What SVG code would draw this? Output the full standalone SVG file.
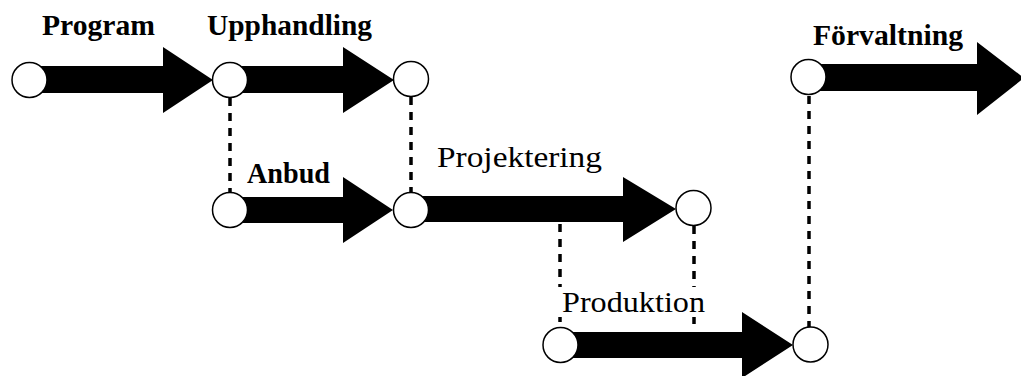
<svg xmlns="http://www.w3.org/2000/svg" width="1021" height="376" viewBox="0 0 1021 376">
<style>
.arrow{fill:#000}
.dash{stroke:#000;stroke-width:3.5;stroke-dasharray:8 7;fill:none}
.node{fill:#fff;stroke:#000;stroke-width:1.5}
.lb{font-family:"Liberation Serif","Times New Roman",serif;font-size:29px;fill:#000}
.b{font-weight:bold}
</style>
<rect width="1021" height="376" fill="#fff"/>
<g id="connectors">
<line class="dash" x1="230" y1="98" x2="230" y2="193"/>
<line class="dash" x1="411" y1="97" x2="411" y2="192"/>
<line class="dash" x1="560" y1="224" x2="560" y2="328"/>
<line class="dash" x1="694" y1="226" x2="694" y2="328"/>
<line class="dash" x1="809" y1="96" x2="809" y2="328"/>
<polygon id="arrow-program" class="arrow" points="29,66 163,66 163,47 213,80 163,113 163,93 29,93"/>
<polygon id="arrow-upphandling" class="arrow" points="230,66 343,66 343,47 394,80 343,113 343,93 230,93"/>
<polygon id="arrow-anbud" class="arrow" points="230,197 343,197 343,177 393,210 343,243 343,223 230,223"/>
<polygon id="arrow-projektering" class="arrow" points="411,196 623,196 623,177 676,209 623,242 623,222 411,222"/>
<polygon id="arrow-produktion" class="arrow" points="560,332 742,332 742,312 793,345 742,378 742,358 560,358"/>
<polygon id="arrow-forvaltning" class="arrow" points="808,64 977,64 977,42 1024,78 977,115 977,91 808,91"/>
</g>
<g id="n1"><circle class="node" cx="29.5" cy="80" r="17.5"/></g>
<g id="n2"><circle class="node" cx="230" cy="80" r="17.5"/></g>
<g id="n3"><circle class="node" cx="411" cy="79" r="17.5"/></g>
<g id="n4"><circle class="node" cx="230" cy="210" r="17.5"/></g>
<g id="n5"><circle class="node" cx="411" cy="210" r="17.5"/></g>
<g id="n6"><circle class="node" cx="693.5" cy="208" r="17.5"/></g>
<g id="n7"><circle class="node" cx="560.5" cy="345" r="17.5"/></g>
<g id="n8"><circle class="node" cx="810.5" cy="344.5" r="17.5"/></g>
<g id="n9"><circle class="node" cx="808.5" cy="77" r="17.5"/></g>
<g id="labels">
<text class="lb b" x="42" y="35" textLength="113" lengthAdjust="spacingAndGlyphs">Program</text>
<text class="lb b" x="207" y="35" textLength="165" lengthAdjust="spacingAndGlyphs">Upphandling</text>
<text class="lb b" x="247" y="183" textLength="83" lengthAdjust="spacingAndGlyphs">Anbud</text>
<text class="lb" x="437" y="167" textLength="165" lengthAdjust="spacingAndGlyphs">Projektering</text>
<rect x="557" y="287" width="150" height="30" fill="#fff"/>
<text class="lb" x="562" y="312" textLength="143" lengthAdjust="spacingAndGlyphs">Produktion</text>
<text class="lb b" x="813" y="45" textLength="150" lengthAdjust="spacingAndGlyphs">Förvaltning</text>
</g>
</svg>
